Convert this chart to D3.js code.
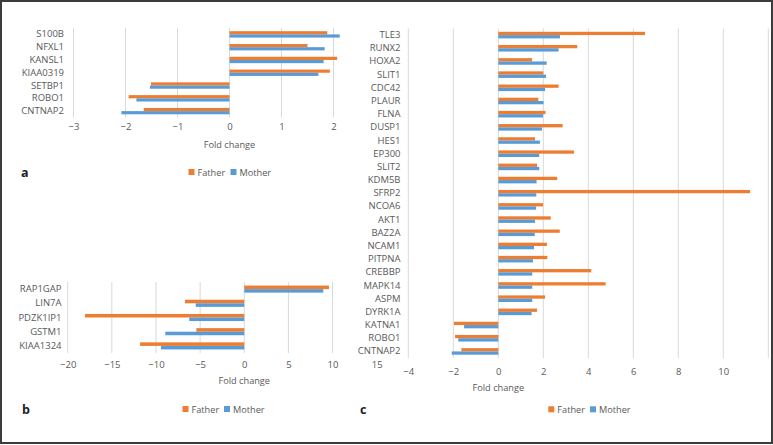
<!DOCTYPE html>
<html><head><meta charset="utf-8">
<script src="https://cdn.jsdelivr.net/npm/d3@7"></script>
<style>
body{margin:0;background:#fff;}
svg{display:block;font-family:"Open Sans",sans-serif;}
</style></head><body>
<svg id="chart" width="773" height="445"></svg>
<script>
// Panel a
const genesA = ["S100B","NFXL1","KANSL1","KIAA0319","SETBP1","ROBO1","CNTNAP2"];
const fatherA = [1.88,1.50,2.07,1.93,-1.51,-1.94,-1.65];
const motherA = [2.12,1.83,1.81,1.71,-1.53,-1.79,-2.08];
const ticksA = [-3,-2,-1,0,1,2];
// Panel b
const genesB = ["RAP1GAP","LIN7A","PDZK1IP1","GSTM1","KIAA1324"];
const fatherB = [9.59,-6.72,-18.04,-5.43,-11.8];
const motherB = [8.95,-5.5,-6.23,-8.95,-9.43];
const ticksB = [-20,-15,-10,-5,0,5,10,15];
// Panel c
const genesC = ["TLE3","RUNX2","HOXA2","SLIT1","CDC42","PLAUR","FLNA","DUSP1","HES1","EP300","SLIT2","KDM5B","SFRP2","NCOA6","AKT1","BAZ2A","NCAM1","PITPNA","CREBBP","MAPK14","ASPM","DYRK1A","KATNA1","ROBO1","CNTNAP2"];
const fatherC = [6.52,3.51,1.50,2.00,2.68,1.78,2.10,2.86,1.63,3.36,1.72,2.62,11.19,1.99,2.33,2.73,2.16,2.18,4.13,4.77,2.08,1.72,-1.97,-1.92,-1.64];
const motherC = [2.74,2.68,2.15,2.12,2.08,2.01,1.99,1.94,1.85,1.82,1.82,1.70,1.69,1.68,1.63,1.62,1.59,1.54,1.51,1.51,1.51,1.48,-1.52,-1.78,-2.07];
const ticksC = [-4,-2,0,2,4,6,8,10];
const seriesNames = ["Father","Mother"];
const colors = ["#ED7D31","#5B9BD5"];

const svg = d3.select("#chart");
const textColor = "#595959";

function panel(cfg){
  const g = svg.append("g");
  const x = d3.scaleLinear().domain(cfg.domain).range([cfg.x0, cfg.x1]);
  const y = d3.scaleBand().domain(cfg.genes).range([cfg.y0, cfg.y1]).paddingInner(0).paddingOuter(0);
  const inner = d3.scaleBand().domain(seriesNames).range([y.bandwidth()*0.25, y.bandwidth()*0.75]);
  // gridlines
  g.append("g").selectAll("line").data(cfg.grid).join("line")
    .attr("x1", d=>x(d)).attr("x2", d=>x(d))
    .attr("y1", cfg.y0).attr("y2", cfg.y1)
    .attr("stroke", "#d9d9d9").attr("stroke-width", 1);
  // bars
  const rows = cfg.genes.map((gname,i)=>({g:gname, vals:[cfg.father[i], cfg.mother[i]]}));
  const rg = g.append("g").selectAll("g").data(rows).join("g")
    .attr("transform", d=>`translate(0,${y(d.g)})`);
  rg.selectAll("rect").data(d=>d.vals.map((v,j)=>({v, s:seriesNames[j], c:colors[j]}))).join("rect")
    .attr("x", d=>Math.min(x(0), x(d.v)))
    .attr("width", d=>Math.abs(x(d.v)-x(0)))
    .attr("y", d=>inner(d.s))
    .attr("height", inner.bandwidth())
    .attr("fill", d=>d.c);
  // category labels
  const yAxis = d3.axisLeft(y).tickSize(0).tickPadding(0);
  const ya = g.append("g").attr("transform", `translate(${cfg.labelX},0)`).call(yAxis);
  ya.select(".domain").remove();
  ya.selectAll("text").attr("fill", textColor).style("font-size", "9.5px").style("font-family", "'Open Sans',sans-serif");
  // x tick labels
  const xAxis = d3.axisBottom(x).tickValues(cfg.ticks).tickSize(0).tickPadding(0)
    .tickFormat(d=> d<0 ? "\u2212"+Math.abs(d) : String(d));
  const xa = g.append("g").attr("transform", `translate(0,${cfg.tickY})`).call(xAxis);
  xa.select(".domain").remove();
  xa.selectAll("text").attr("fill", textColor).attr("dy", "0.35em").attr("y", 0)
    .style("font-size", "9.5px").style("font-family", "'Open Sans',sans-serif");
  // axis title
  g.append("text").attr("x", x(0)).attr("y", cfg.titleY).attr("text-anchor","middle")
    .attr("dominant-baseline","central")
    .attr("fill", textColor).style("font-size","9.2px").text("Fold change");
  // legend
  const lg = g.append("g").attr("transform", `translate(${cfg.legX},${cfg.legY})`);
  const items = [{n:"Father",c:colors[0],dx:0},{n:"Mother",c:colors[1],dx:cfg.legGap}];
  items.forEach(it=>{
    lg.append("rect").attr("x", it.dx).attr("y", -3).attr("width", 6).attr("height", 6).attr("fill", it.c);
    lg.append("text").attr("x", it.dx+9).attr("y", 0).attr("dominant-baseline","central")
      .attr("fill", textColor).style("font-size","9.2px").text(it.n);
  });
  // panel letter
  g.append("text").attr("x", cfg.letterX).attr("y", cfg.legY).attr("dominant-baseline","central")
    .attr("fill", "#222").style("font-size","12.5px").style("font-weight","bold").text(cfg.letter);
}

panel({genes:genesA, father:fatherA, mother:motherA, ticks:ticksA, grid:ticksA,
  domain:[-3,2], x0:73.5, x1:333.5, y0:28, y1:117.5, labelX:64, tickY:127, titleY:144,
  legX:188.5, legY:172, legGap:42, letter:"a", letterX:21});
panel({genes:genesB, father:fatherB, mother:motherB, ticks:ticksB, grid:[-20,-15,-10,-5,0,5,10],
  domain:[-20,15], x0:67.7, x1:376.7, y0:282, y1:353, labelX:61.5, tickY:365, titleY:380.5,
  legX:182.5, legY:409, legGap:41.5, letter:"b", letterX:22});
panel({genes:genesC, father:fatherC, mother:motherC, ticks:ticksC, grid:[-4,-2,0,2,4,6,8,10,12],
  domain:[-4,10], x0:408.3, x1:723.3, y0:28.5, y1:358, labelX:400.5, tickY:371.5, titleY:387,
  legX:548.3, legY:409.3, legGap:41.7, letter:"c", letterX:360});

// frame
svg.append("rect").attr("x",1).attr("y",1).attr("width",771).attr("height",442)
  .attr("fill","none").attr("stroke","#3c3c3c").attr("stroke-width",2);
</script>
</body></html>
